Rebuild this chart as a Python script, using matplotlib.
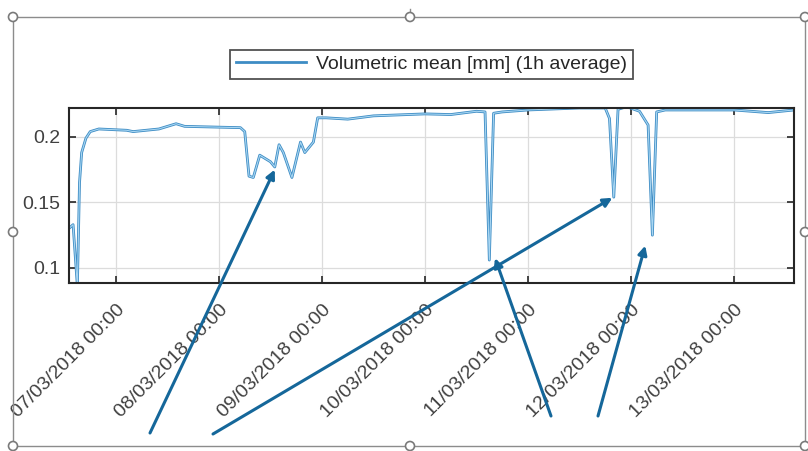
import numpy as np
import pandas as pd
import matplotlib.pyplot as plt
import matplotlib.dates as mdates
from matplotlib.patches import Circle, Rectangle

plt.rcParams['font.family'] = ['Liberation Sans', 'DejaVu Sans']

# hourly-averaged volumetric mean, read at the turning points of the trace
times = [
    "2018-03-06 13:00", "2018-03-06 14:00", "2018-03-06 15:00", "2018-03-06 15:30",
    "2018-03-06 16:00", "2018-03-06 17:00", "2018-03-06 18:00", "2018-03-06 20:00",
    "2018-03-07 02:30", "2018-03-07 04:00", "2018-03-07 10:00", "2018-03-07 14:00",
    "2018-03-07 16:00", "2018-03-08 05:00", "2018-03-08 06:00", "2018-03-08 07:00",
    "2018-03-08 08:00", "2018-03-08 09:30", "2018-03-08 12:00", "2018-03-08 13:00",
    "2018-03-08 14:00", "2018-03-08 15:00", "2018-03-08 17:00", "2018-03-08 19:00",
    "2018-03-08 20:00", "2018-03-08 22:00", "2018-03-08 23:00", "2018-03-09 01:00",
    "2018-03-09 06:00", "2018-03-09 12:00", "2018-03-10 00:00", "2018-03-10 06:00",
    "2018-03-10 12:00", "2018-03-10 14:00", "2018-03-10 15:00", "2018-03-10 16:00",
    "2018-03-10 18:00", "2018-03-11 00:00", "2018-03-11 12:00", "2018-03-11 18:00",
    "2018-03-11 19:00", "2018-03-11 20:00", "2018-03-11 21:00", "2018-03-11 23:00",
    "2018-03-12 02:00", "2018-03-12 04:00", "2018-03-12 05:00", "2018-03-12 06:00",
    "2018-03-12 08:00", "2018-03-13 00:00", "2018-03-13 06:00", "2018-03-13 08:00",
    "2018-03-13 14:00",
]
vol_mean = [
    0.130, 0.133, 0.086, 0.165,
    0.188, 0.199, 0.204, 0.206,
    0.205, 0.204, 0.206, 0.210,
    0.208, 0.207, 0.204, 0.170,
    0.169, 0.186, 0.181, 0.177,
    0.194, 0.188, 0.169, 0.196,
    0.188, 0.196, 0.2145, 0.2145,
    0.2135, 0.216, 0.2175, 0.217,
    0.2195, 0.219, 0.106, 0.218,
    0.219, 0.2205, 0.222, 0.222,
    0.214, 0.154, 0.221, 0.223,
    0.2195, 0.209, 0.125, 0.219,
    0.2205, 0.2205, 0.219, 0.2185,
    0.2205,
]
tick_days = ["2018-03-07", "2018-03-08", "2018-03-09", "2018-03-10",
             "2018-03-11", "2018-03-12", "2018-03-13"]
y_ticks = [0.1, 0.15, 0.2]

# events called out with arrows: (time, value) heads, tails in figure pixels
event_times = ["2018-03-08 13:00", "2018-03-11 19:40", "2018-03-10 16:20", "2018-03-12 03:20"]
event_vals = [0.175, 0.1535, 0.1075, 0.117]
tail_px = [(150, 433), (213, 434), (551, 416), (598, 416)]

t = pd.to_datetime(times)
W, H = 808, 451
fig = plt.figure(figsize=(W / 100, H / 100), dpi=100)
ax = fig.add_axes([69 / W, 1 - 283 / H, (794 - 69) / W, (283 - 108) / H])

ax.plot(t, vol_mean, color="#3d8cc4", lw=2.0, solid_joinstyle="round",
        label="Volumetric mean [mm] (1h average)")
ax.plot(t, vol_mean, color="#a8d6f2", lw=0.8, solid_joinstyle="round")

ax.set_xlim(pd.Timestamp("2018-03-06 13:03"), pd.Timestamp("2018-03-13 14:00"))
ax.set_ylim(0.0885, 0.222)
ax.set_yticks(y_ticks)
ax.set_yticklabels(["0.1", "0.15", "0.2"])
ax.set_xticks(pd.to_datetime(tick_days))
ax.xaxis.set_major_formatter(mdates.DateFormatter("%d/%m/%Y %H:%M"))
for lab in ax.get_xticklabels():
    lab.set_rotation(45)
    lab.set_ha("right")
    lab.set_rotation_mode("anchor")

ax.grid(True, color="#dcdcdc", lw=0.9)
ax.set_axisbelow(True)
ax.tick_params(direction="in", top=True, right=True, length=5, width=1.2,
               colors="#262626", labelsize=14, labelcolor="#404040", pad=6)
ax.tick_params(axis="x", pad=13)
for s in ax.spines.values():
    s.set_color("#262626")
    s.set_linewidth(1.5)

leg = ax.legend(loc="lower center", bbox_to_anchor=(0.5, 1.11), fontsize=14,
                frameon=True, fancybox=False, handlelength=3.6,
                borderpad=0.3, handletextpad=0.5)
leg.get_frame().set_edgecolor("#262626")
leg.get_frame().set_linewidth(1.3)
for txt in leg.get_texts():
    txt.set_color("#262626")

# annotation arrows
for et, ev, (px, py) in zip(event_times, event_vals, tail_px):
    ax.annotate("", xy=(pd.Timestamp(et), ev), xycoords="data",
                xytext=(px, H - py), textcoords="figure pixels",
                arrowprops=dict(arrowstyle="-|>", color="#15679a", lw=2.2,
                                mutation_scale=13, shrinkA=0, shrinkB=0),
                annotation_clip=False)

# selection frame with handles
frame = Rectangle((13, H - 446), 792, 429, transform=None, fill=False,
                  edgecolor="#8c8c8c", lw=1.0)
fig.patches.append(frame)
fig.add_artist(plt.Line2D([410, 410], [H - 17, H - 9], transform=None,
                          color="#8c8c8c", lw=1.0))
for hx in (13, 410, 805):
    for hy in (17, 232, 446):
        if hx == 410 and hy == 232:
            continue
        fig.patches.append(Circle((hx, H - hy), 4.5, transform=None,
                                  facecolor="white", edgecolor="#7a7a7a",
                                  lw=1.2, zorder=5))

fig.savefig("out.png", dpi=100)
